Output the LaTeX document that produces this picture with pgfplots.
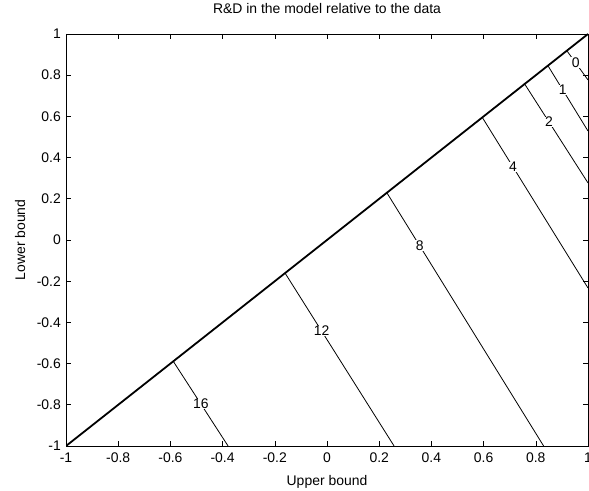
\documentclass[border=0pt]{standalone}
\usepackage{fontspec}
\setmainfont{Liberation Sans}
\usepackage{pgfplots}
\pgfplotsset{compat=1.18}
\begin{document}
\fontsize{14}{16}\selectfont
\begin{tikzpicture}
\begin{axis}[
  scale only axis, width=522bp, height=412bp,
  xmin=-1, xmax=1, ymin=-1, ymax=1,
  xtick={-1,-0.8,-0.6,-0.4,-0.2,0,0.2,0.4,0.6,0.8,1},
  ytick={-1,-0.8,-0.6,-0.4,-0.2,0,0.2,0.4,0.6,0.8,1},
  xticklabels={-1,-0.8,-0.6,-0.4,-0.2,0,0.2,0.4,0.6,0.8,1},
  yticklabels={-1,-0.8,-0.6,-0.4,-0.2,0,0.2,0.4,0.6,0.8,1},
  tick align=inside, major tick length=5bp,
  tick style={black, line width=0.6bp},
  axis line style={black, line width=0.8bp},
  xticklabel style={anchor=base, yshift=-16bp},
  yticklabel style={anchor=east, inner sep=0pt, xshift=-5bp},
  title={R\&D in the model relative to the data},
  title style={at={(axis description cs:0.5,1.0364)}, anchor=base},
  xlabel={Upper bound},
  xlabel style={at={(axis description cs:0.5,-0.0947)}, anchor=base},
  ylabel={Lower bound},
  ylabel style={at={(axis description cs:-0.0785,0.5)}, anchor=base},
  every node near coord/.style={},
  clip=true,
]
\coordinate (sw) at (rel axis cs:0,0);
\coordinate (ne) at (rel axis cs:1,1);
% boundary (diagonal)
\addplot[black, line width=1.8bp] coordinates {(-1,-1) (1,1)};
% contour lines
\addplot[black, line width=0.8bp] coordinates {(-0.59,-0.587) (-0.379,-1)}
  node[pos=0.506, fill=white, inner sep=0.5pt] {16};
\addplot[black, line width=0.8bp] coordinates {(-0.161,-0.160) (0.257,-1)}
  node[pos=0.336, fill=white, inner sep=0.5pt] {12};
\addplot[black, line width=0.8bp] coordinates {(0.230,0.228) (0.830,-1)}
  node[pos=0.209, fill=white, inner sep=0.5pt] {8};
\addplot[black, line width=0.8bp] coordinates {(0.594,0.597) (1,-0.233)}
  node[pos=0.293, fill=white, inner sep=0.5pt] {4};
\addplot[black, line width=0.8bp] coordinates {(0.755,0.762) (1,0.277)}
  node[pos=0.39, fill=white, inner sep=0.5pt] {2};
\addplot[black, line width=0.8bp] coordinates {(0.847,0.845) (1,0.529)}
  node[pos=0.37, fill=white, inner sep=0.5pt] {1};
\addplot[black, line width=0.8bp] coordinates {(0.920,0.917) (1,0.777)}
  node[pos=0.41, fill=white, inner sep=0.5pt] {0};
\end{axis}
\pgfresetboundingbox
\path ([xshift=-66bp,yshift=-45bp]sw) rectangle ([xshift=1bp,yshift=34bp]ne);
\end{tikzpicture}
\end{document}
